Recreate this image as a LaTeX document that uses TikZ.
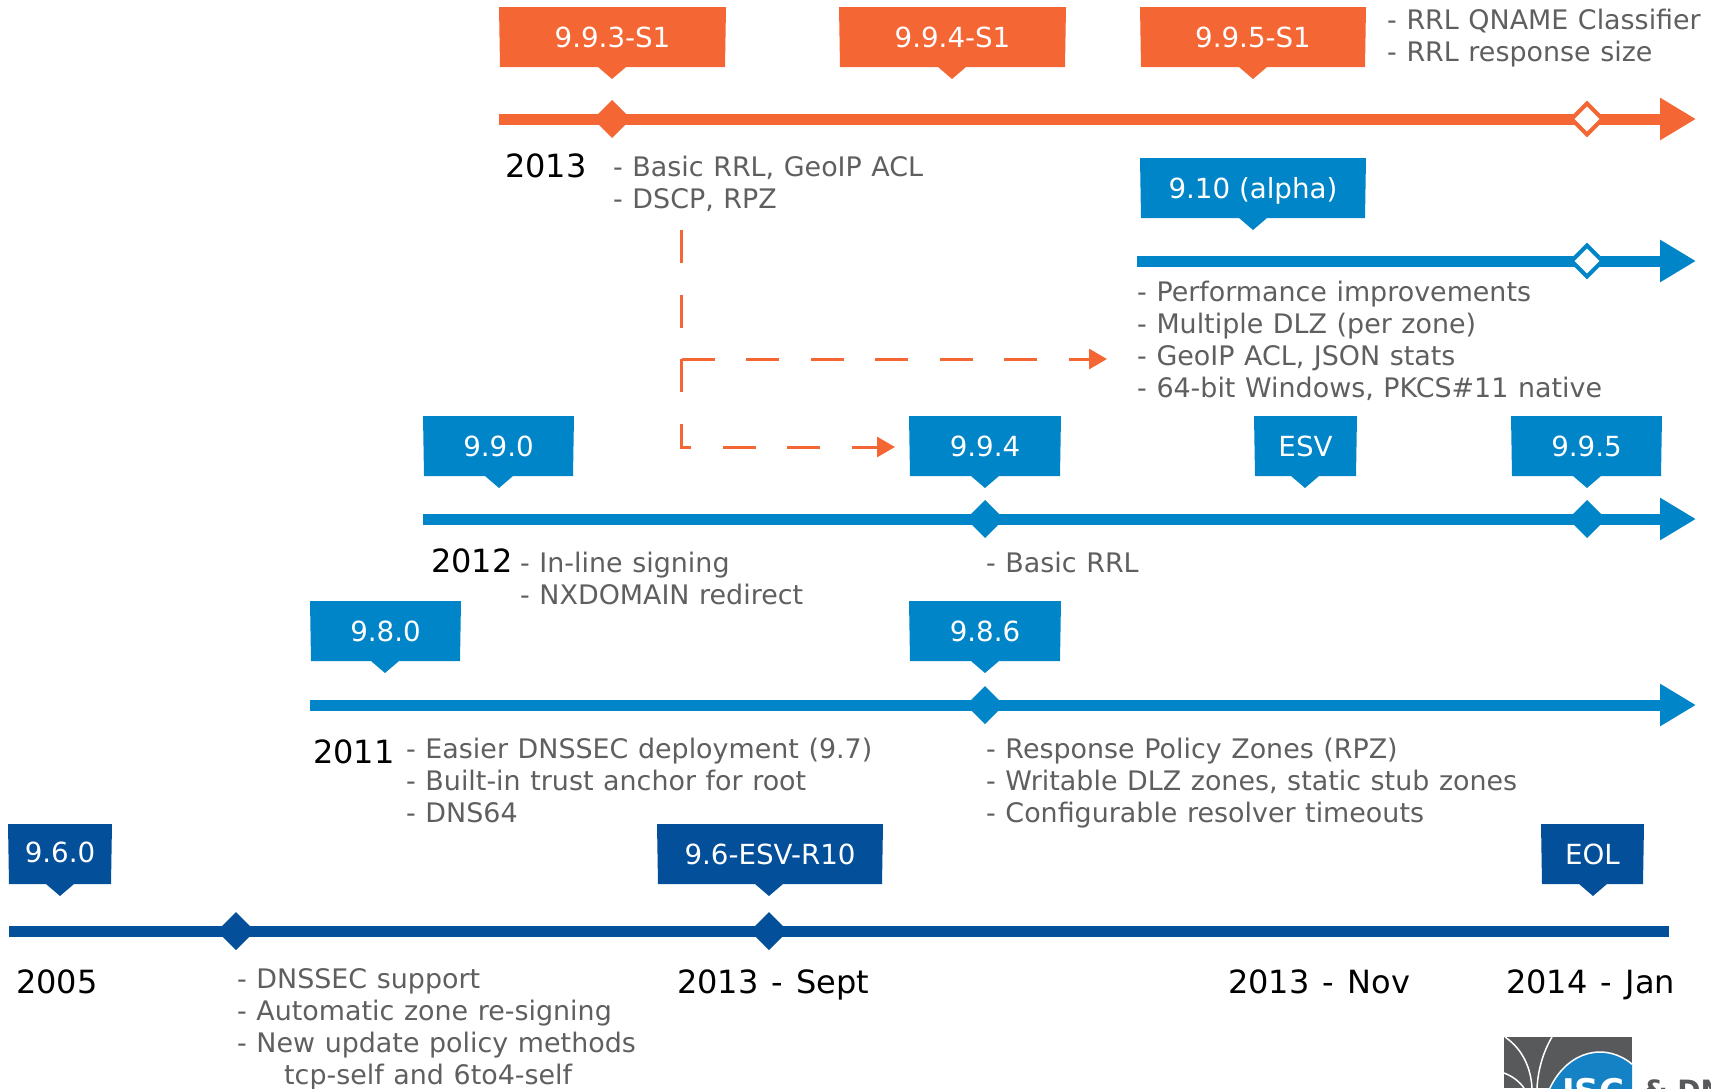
\documentclass[tikz,border=0pt]{standalone}
\usepackage{fontspec}
\setmainfont{DejaVu Sans}
\usetikzlibrary{arrows.meta}
\definecolor{orangeC}{HTML}{F46634}
\definecolor{blueC}{HTML}{0085C8}
\definecolor{darkC}{HTML}{034F9A}
\definecolor{grayT}{HTML}{5F5F5F}
\definecolor{logoG}{HTML}{58595B}
\definecolor{logoB}{HTML}{1582C5}
\newcommand\ftl{\rule{0pt}{22pt}}
\newcommand\txtfont{\fontsize{26.9}{32}\selectfont\spaceskip 9.6pt\relax}
\newcommand\yrfont{\fontsize{32}{38}\selectfont\spaceskip 13.2pt\relax}
\newcommand\callout[7]{%
  \fill[#6] (#2,#5) -- (#3,#5) -- ({#3-1},#5+60) -- ({#4+14},#5+60) -- (#4,#5+72) -- ({#4-14},#5+60) -- ({#2+1},#5+60) -- cycle;
  \node[lab] (#1) at ({(#2+#3)/2},#5+40) {#7};
}
\newcommand\dmd[4]{%
  \coordinate (#1) at (#2,#3);
  \fill[#4] (#2,#3-19) -- (#2+19,#3) -- (#2,#3+19) -- (#2-19,#3) -- cycle;
}
\newcommand\hdmd[4]{%
  \coordinate (#1) at (#2,#3);
  \filldraw[fill=white,draw=#4,line width=4.2pt] (#2,#3-15.5) -- (#2+15.5,#3) -- (#2,#3+15.5) -- (#2-15.5,#3) -- cycle;
}
\tikzset{
  lab/.style={anchor=base,inner sep=0pt,text=white,font=\fontsize{27.7}{32}\selectfont},
  txt/.style={anchor=north west,inner sep=0pt,align=left,text=grayT,font=\txtfont},
  yr/.style={anchor=base west,inner sep=0pt,text=black,font=\yrfont},
  tl/.style={line width=11pt,draw=#1,-{Triangle[length=36pt,width=40pt,fill=#1]}},
  tlplain/.style={line width=11pt,draw=#1},
  dashln/.style={draw=orangeC,line width=3pt,dash pattern=on 33pt off 31.5pt,-{Triangle[length=18pt,width=20pt,fill=orangeC]}},
}
\begin{document}
\begin{tikzpicture}[x=1pt,y=-1pt]
\useasboundingbox (0,0) rectangle (1711,1088);

% line ends
\coordinate (oA) at (499,119);   \coordinate (oB) at (1696,119);
\coordinate (bA) at (1137,261);  \coordinate (bB) at (1696,261);
\coordinate (cA) at (423,519);   \coordinate (cB) at (1696,519);
\coordinate (dA) at (310,705);   \coordinate (dB) at (1696,705);
\coordinate (eA) at (9,931);     \coordinate (eB) at (1669,931);

\draw[tl=orangeC] (oA) -- (oB);
\draw[tl=blueC] (bA) -- (bB);
\draw[tl=blueC] (cA) -- (cB);
\draw[tl=blueC] (dA) -- (dB);
\draw[tlplain=darkC] (eA) -- (eB);

% markers
\dmd{m1}{612}{119}{orangeC}
\hdmd{m2}{1587}{119}{orangeC}
\hdmd{m3}{1587}{261}{blueC}
\dmd{m4}{985}{519}{blueC}
\dmd{m5}{1587}{519}{blueC}
\dmd{m6}{985}{705}{blueC}
\dmd{m7}{236}{931}{darkC}
\dmd{m8}{769}{931}{darkC}

% callouts
\callout{c1}{499}{726}{612}{7}{orangeC}{9.9.3-S1}
\callout{c2}{839}{1066}{952}{7}{orangeC}{9.9.4-S1}
\callout{c3}{1140}{1366}{1253}{7}{orangeC}{9.9.5-S1}
\callout{c4}{1140}{1366}{1253}{158}{blueC}{9.10 (alpha)}
\callout{c5}{423}{574}{499}{416}{blueC}{9.9.0}
\callout{c6}{909}{1061}{985}{416}{blueC}{9.9.4}
\callout{c7}{1254}{1357}{1305}{416}{blueC}{ESV}
\callout{c8}{1511}{1662}{1587}{416}{blueC}{9.9.5}
\callout{c9}{310}{461}{385}{601}{blueC}{9.8.0}
\callout{c10}{909}{1061}{985}{601}{blueC}{9.8.6}
\callout{c11}{8}{112}{60}{824}{darkC}{\raisebox{2pt}{9.6.0}}
\callout{c12}{657}{883}{769}{824}{darkC}{9.6-ESV-R10}
\callout{c13}{1541}{1644}{1593}{824}{darkC}{EOL}

% dashed connectors
\coordinate (dS) at (681.5,230);
\coordinate (dK) at (681.5,359);
\coordinate (dL) at (681.5,447);
\coordinate (dT1) at (1107,359);
\coordinate (dT2) at (895,447);
\draw[dashln] (dS) -- (dL) -- (dT2);
\draw[dashln] (dK) -- (dT1);

% years
\node[yr] (y2013) at (505,177) {2013};
\node[yr] (y2012) at (431,572) {2012};
\node[yr] (y2011) at (313,763) {2011};
\node[yr] (y2005) at (16,993) {2005};
\node[yr] (d1) at (677,993) {2013 - Sept};
\node[yr] (d2) at (1228,993) {2013 - Nov};
\node[yr] (d3) at (1506,993) {2014 - Jan};

% text
\node[txt] (t1) at (1387,7) {\ftl- RRL QNAME Classifier\\- RRL response size};
\node[txt] (t2) at (613,154) {\ftl- Basic RRL, GeoIP ACL\\- DSCP, RPZ};
\node[txt] (t3) at (1137,279) {\ftl- Performance improvements\\- Multiple DLZ (per zone)\\- GeoIP ACL, JSON stats\\- 64-bit Windows, PKCS\#11 native};
\node[txt] (t4) at (520,550) {\ftl- In-line signing\\- NXDOMAIN redirect};
\node[txt] (t5) at (986,550) {\ftl- Basic RRL};
\node[txt] (t6) at (406,736) {\ftl- Easier DNSSEC deployment (9.7)\\- Built-in trust anchor for root\\- DNS64};
\node[txt] (t7) at (986,736) {\ftl- Response Policy Zones (RPZ)\\- Writable DLZ zones, static stub zones\\- Configurable resolver timeouts};
\node[txt] (t8) at (237,966) {\ftl- DNSSEC support\\- Automatic zone re-signing\\- New update policy methods\\\hspace*{47pt}tcp-self and 6to4-self};

% logo
\begin{scope}
  \clip (1504,1037) rectangle (1632,1088);
  \fill[logoG] (1504,1037) rectangle (1632,1088);
  \draw[white,line width=1.5pt] (1505,1037) .. controls (1524,1050) and (1531,1070) .. (1532,1088);
  \draw[white,line width=1.5pt] (1552,1037) .. controls (1543,1052) and (1538,1070) .. (1537,1088);
  \draw[white,line width=1.5pt] (1504,1073) .. controls (1512,1076) and (1519,1081) .. (1524,1088);
  \fill[logoB,draw=white,line width=1.5pt] (1600,1125) ellipse (58pt and 73pt);
\end{scope}
\begin{scope}
  \clip (0,0) rectangle (1711,1088);
  \node[anchor=base west,inner sep=0pt,text=white,font=\fontsize{34}{38}\selectfont\bfseries] (isc) at (1562,1103) {ISC};
  \node[anchor=base west,inner sep=0pt,text=logoG,font=\fontsize{28}{32}\selectfont\bfseries] (dn) at (1643,1100) {\& DN};
\end{scope}
\end{tikzpicture}
\end{document}
